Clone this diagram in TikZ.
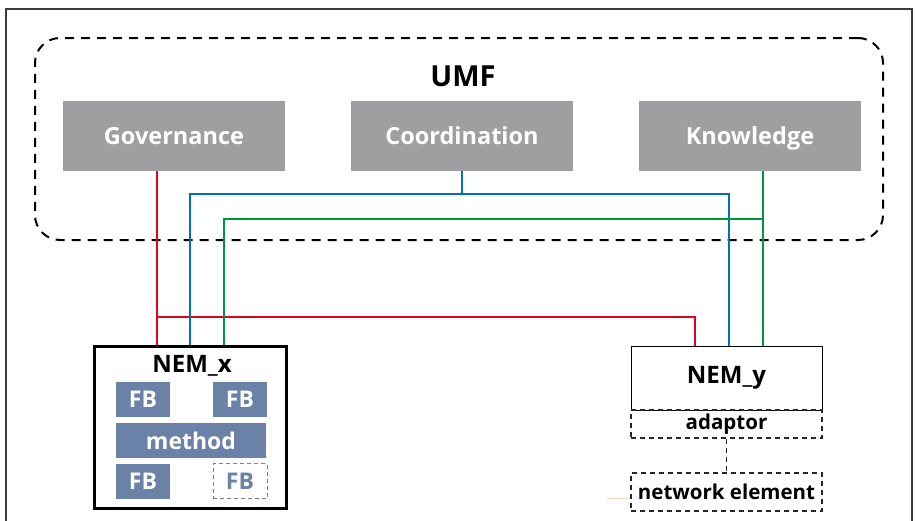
\documentclass[tikz,border=0pt]{standalone}
\usepackage{fontspec}
\setmainfont{Open Sans}
\usetikzlibrary{positioning}

\definecolor{umfgray}{RGB}{158,159,161}
\definecolor{fbblue}{RGB}{106,130,167}
\definecolor{govred}{RGB}{226,0,36}
\definecolor{coordblue}{RGB}{0,112,186}
\definecolor{knowgreen}{RGB}{0,150,64}
\definecolor{framegray}{RGB}{60,60,60}
\definecolor{tanline}{RGB}{240,222,196}

\tikzset{
  umfbox/.style={fill=umfgray,text=white,inner sep=0pt,minimum width=222pt,minimum height=70pt,
    text height=21.8pt,text depth=5pt,font=\bfseries\fontsize{23.5}{26}\selectfont},
  fbbox/.style={fill=fbblue,text=white,inner sep=0pt,minimum width=54pt,minimum height=35pt,
    font=\bfseries\fontsize{23}{26}\selectfont},
  nemlabel/.style={inner sep=0pt,font=\bfseries\fontsize{24}{26}\selectfont},
  dashbox/.style={draw=black!85,line width=1.2pt,dash pattern=on 5pt off 4pt,inner sep=0pt,
    minimum width=191pt,font=\bfseries\fontsize{20.5}{22}\selectfont},
  wire/.style={line width=2pt}
}

\begin{document}
\begin{tikzpicture}[x=1pt,y=-1pt]
  \useasboundingbox (0,0) rectangle (915,520);
  \draw[framegray,line width=1.5pt] (6,9) rectangle (912,540);
  % UMF part of the Figure
  \node[draw=black,line width=2pt,dash pattern=on 9pt off 7pt,rounded corners=25pt,
        minimum width=848pt,minimum height=202pt] (umf) at (459,139) {};
  \node[nemlabel,font=\bfseries\fontsize{29}{32}\selectfont] (umflabel) at (463,76) {UMF};
  \node[umfbox] (gov)   at (174,136) {Governance};
  \node[umfbox] (coord) at (462,136) {Coordination};
  \node[umfbox] (know)  at (750,136) {Knowledge};
  % NEM_x
  \node[draw=black,line width=3pt,minimum width=192pt,minimum height=162pt] (nemx) at (190,427) {};
  \node[nemlabel] (nemxlabel) at (192,366) {NEM\_x};
  \node[fbbox] (fba) at (143,399.5) {FB};
  \node[fbbox] (fbb) at (240,399.5) {FB};
  \node[fbbox,minimum width=150pt] (method) at (191,440.5) {method};
  \node[fbbox] (fbc) at (143,481) {FB};
  \node[fbbox,fill=none,draw=fbblue,text=fbblue,line width=1pt,dash pattern=on 4pt off 3pt] (fbd) at (240,481) {FB};
  % NEM_y
  \node[draw=black,line width=1pt,minimum width=191pt,minimum height=64pt,nemlabel] (nemy) at (726.5,378) {NEM\_y};
  \node[dashbox,minimum height=28pt] (adaptor) at (726.5,424) {adaptor};
  \node[dashbox,minimum height=38pt] (netel) at (726.5,492) {network element};
  \draw[dashbox] (adaptor.south) -- (netel.north);
  \draw[tanline,line width=1pt] ([yshift=-6pt]netel.west) -- ++(-24,0);
  % Wires
  \draw[wire,govred] ([xshift=-17pt]gov.south) -- ([xshift=-17pt]gov.south |- nemx.north);
  \draw[wire,govred] ([xshift=-17pt]gov.south |- 0,317) -| ([xshift=-32pt]nemy.north);
  \draw[wire,coordblue] (coord.south) -- (coord.south |- 0,194);
  \draw[wire,coordblue] (nemx.north) |- ([xshift=2pt]nemy.north |- 0,194) -- ([xshift=2pt]nemy.north);
  \draw[wire,knowgreen] ([xshift=13pt]know.south) -- ([xshift=13pt]know.south |- nemy.north);
  \draw[wire,knowgreen] ([xshift=34pt]nemx.north) |- ([xshift=13pt]know.south |- 0,219);
\end{tikzpicture}
\end{document}
